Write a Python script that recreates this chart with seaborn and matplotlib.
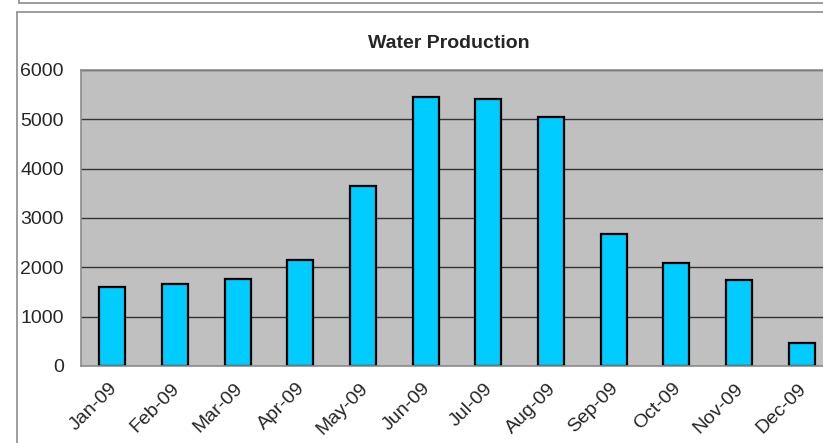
import numpy as np
import pandas as pd
import matplotlib
matplotlib.use("Agg")
import matplotlib.pyplot as plt
import matplotlib.transforms as mtransforms
from matplotlib.lines import Line2D
import seaborn as sns

# ----------------- Data -----------------
months = ["Jan-09", "Feb-09", "Mar-09", "Apr-09", "May-09", "Jun-09",
          "Jul-09", "Aug-09", "Sep-09", "Oct-09", "Nov-09", "Dec-09"]
production = [1607, 1656, 1764, 2155, 3649, 5459, 5412, 5054, 2676, 2094, 1743, 472]
y_ticks = [0, 1000, 2000, 3000, 4000, 5000, 6000]

df = pd.DataFrame({"month": months, "production": production})

# ----------------- Style -----------------
sns.set_style("white")
plt.rcParams["font.family"] = ["Liberation Sans", "DejaVu Sans"]

W, H = 823, 443
fig = plt.figure(figsize=(W / 100, H / 100), dpi=100)

# outer chart frames (spreadsheet style)
frame_col = "#8c8c8c"
fig.add_artist(Line2D([16.5 / W, 16.5 / W], [0, 1 - 12 / H], color=frame_col, lw=1.2))
fig.add_artist(Line2D([16.5 / W, 1], [1 - 12 / H, 1 - 12 / H], color=frame_col, lw=1.2))
fig.add_artist(Line2D([19 / W, 19 / W], [1 - 3 / H, 1], color=frame_col, lw=1.2))
fig.add_artist(Line2D([19 / W, 1], [1 - 3 / H, 1 - 3 / H], color=frame_col, lw=1.2))

# plot area (extends past the right edge like the reference)
left, right, top, bottom = 81, 833, 70, 366
ax = fig.add_axes([left / W, 1 - bottom / H, (right - left) / W, (bottom - top) / H])
ax.set_facecolor("#c0c0c0")

sns.barplot(data=df, x="month", y="production", color="#00ccff",
            edgecolor="black", linewidth=1.6, width=0.41, saturation=1, ax=ax)

ax.set_xlim(-0.5, len(months) - 0.5)
ax.set_ylim(0, 6000)
ax.set_yticks(y_ticks)
ax.yaxis.grid(True, color="#333333", linewidth=1)
ax.set_axisbelow(True)
ax.set_xlabel("")
ax.set_ylabel("")

# ticks at category boundaries
ax.set_xticks(np.arange(len(months)))
ax.set_xticklabels(months, rotation=45, ha="right", rotation_mode="anchor", fontsize=14)
ax.set_xticks(np.arange(-0.5, len(months)), minor=True)
ax.tick_params(axis="x", which="major", length=0, pad=5)
ax.tick_params(axis="x", which="minor", length=5, color="#8c8c8c", direction="out")
ax.tick_params(axis="y", length=6, color="#8c8c8c", direction="out", labelsize=14, pad=6.5)

# nudge rotated labels down-left a little
offset = mtransforms.ScaledTranslation(-4 / 100, -7 / 100, fig.dpi_scale_trans)
for lbl in ax.get_xticklabels():
    lbl.set_transform(lbl.get_transform() + offset)

for side in ["left", "bottom", "top", "right"]:
    ax.spines[side].set_color("#8c8c8c")
    ax.spines[side].set_linewidth(1.2)

fig.text(449 / W, 1 - 43 / H, "Water Production", ha="center", va="center",
         fontsize=14, fontweight="bold")

fig.savefig("out.png", dpi=100)
